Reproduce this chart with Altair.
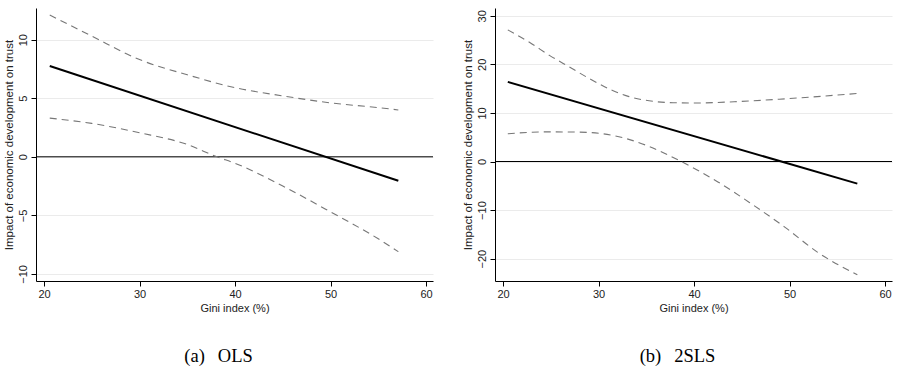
import altair as alt
import pandas as pd

# ---- data ----
# Panel (a) OLS
ols_est_x = [20.6, 57.1]
ols_est = [7.75, -2.05]
ols_up_x = [20.6, 25, 30, 35, 40, 45, 50, 55, 57.1]
ols_upper = [12.1, 10.3, 8.3, 7.0, 5.9, 5.2, 4.6, 4.2, 4.0]
ols_lo_x = [20.6, 25, 30, 35, 38.1, 40, 45, 50, 55, 57.1]
ols_lower = [3.3, 2.85, 2.05, 1.05, 0.0, -0.55, -2.5, -4.7, -7.0, -8.1]

# Panel (b) 2SLS
iv_est_x = [20.5, 57.1]
iv_est = [16.4, -4.55]
iv_up_x = [20.5, 22.8, 24.9, 27.0, 29.1, 31.15, 33.2, 35.3, 37.8, 40.2, 44.2, 49.5, 57.1]
iv_upper = [27.1, 24.5, 21.8, 19.4, 17.0, 14.9, 13.35, 12.5, 12.1, 12.05, 12.3, 12.9, 14.0]
iv_lo_x = [20.5, 24.4, 27.9, 30.5, 33.0, 35.3, 38.65, 42.5, 46.0, 49.5, 52.95, 57.1]
iv_lower = [5.7, 6.1, 6.05, 5.7, 4.66, 3.1, 0.0, -4.2, -8.7, -13.5, -18.7, -23.3]

x_ticks = [20, 30, 40, 50, 60]
ols_y_ticks = [-10, -5, 0, 5, 10]
iv_y_ticks = [-20, -10, 0, 10, 20, 30]

x_title = "Gini index (%)"
y_title = "Impact of economic development on trust"
captions = ["(a)\u2002\u2009OLS", "(b)\u2002\u20092SLS"]

FONT = "Liberation Sans"


def panel(est_x, est, up_x, up, lo_x, lo, ydom, yticks, caption):
    xs_ = alt.Scale(domain=[19.16, 60.73], nice=False, zero=False)
    ys_ = alt.Scale(domain=ydom, nice=False, zero=False)
    xax = alt.Axis(values=x_ticks, title=x_title, grid=False, tickSize=5,
                   labelPadding=2, titlePadding=3, domainColor="black",
                   tickColor="black", labelColor="#222", titleColor="#222",
                   labelFont=FONT, titleFont=FONT, labelFontSize=11,
                   titleFontSize=11, titleFontWeight="normal")
    yax = alt.Axis(values=yticks, title=y_title, grid=True, gridColor="#ebebeb",
                   tickSize=5, labelAngle=270, labelAlign="center",
                   labelBaseline="bottom", labelPadding=3, titlePadding=3,
                   domainColor="black", tickColor="black", labelColor="#222",
                   titleColor="#222", labelFont=FONT, titleFont=FONT,
                   labelFontSize=11, titleFontSize=11.5, titleFontWeight="normal")
    zero = alt.Chart(pd.DataFrame({"z": [0]})).mark_rule(
        color="black", strokeWidth=1).encode(y=alt.Y("z:Q", scale=ys_))
    upper = alt.Chart(pd.DataFrame({"x": up_x, "y": up})).mark_line(
        color="#777", strokeWidth=1.1, strokeDash=[7, 5], interpolate="monotone"
    ).encode(x=alt.X("x:Q", scale=xs_, axis=xax), y=alt.Y("y:Q", scale=ys_, axis=yax))
    lower = alt.Chart(pd.DataFrame({"x": lo_x, "y": lo})).mark_line(
        color="#777", strokeWidth=1.1, strokeDash=[7, 5], interpolate="monotone"
    ).encode(x=alt.X("x:Q", scale=xs_), y=alt.Y("y:Q", scale=ys_))
    line = alt.Chart(pd.DataFrame({"x": est_x, "y": est})).mark_line(
        color="black", strokeWidth=2
    ).encode(x=alt.X("x:Q", scale=xs_), y=alt.Y("y:Q", scale=ys_))
    return alt.layer(zero, upper, lower, line).properties(
        width=397, height=273,
        title=alt.TitleParams(caption, orient="bottom", font="Liberation Serif",
                              fontSize=18.5, fontWeight="normal", color="black",
                              offset=34, dx=-16),
    )


left = panel(ols_est_x, ols_est, ols_up_x, ols_upper, ols_lo_x, ols_lower,
             [-10.6, 12.7], ols_y_ticks, captions[0])
right = panel(iv_est_x, iv_est, iv_up_x, iv_upper, iv_lo_x, iv_lower,
              [-24.6, 31.6], iv_y_ticks, captions[1])

chart = alt.hconcat(left, right, spacing=62, bounds="flush").properties(
    padding={"left": 3, "top": 8, "right": 5, "bottom": 0},
    background="white",
).configure_view(stroke=None)

chart.save("out.html", embed_options={"renderer": "svg", "actions": False})
